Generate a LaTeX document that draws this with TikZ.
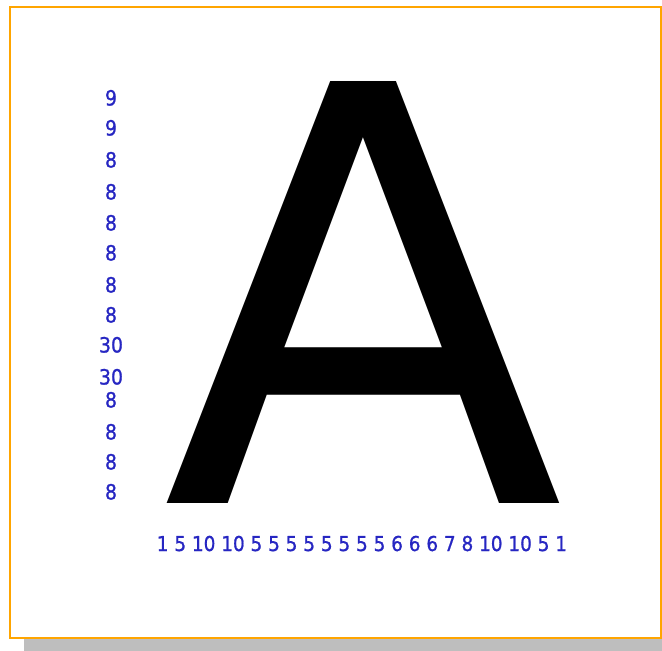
\documentclass[tikz,border=0pt]{standalone}
\usepackage{fontspec}
\setmainfont{DejaVu Sans Condensed}
\newfontfamily\numfont[FakeBold=0.9]{DejaVu Sans Condensed}
\newfontfamily\glyphfont{DejaVu Sans}
\definecolor{numblue}{rgb}{0.15,0.15,0.76}
\definecolor{frameorange}{RGB}{255,165,0}
\definecolor{shadowgrey}{RGB}{190,190,190}
\begin{document}
\begin{tikzpicture}[x=1pt,y=-1pt,
    rownum/.style={anchor=base, inner sep=0pt, text=numblue, font=\numfont\fontsize{21}{21}\selectfont},
    colnum/.style={anchor=base, inner sep=0pt, text=numblue, font=\numfont\fontsize{20.5}{21}\selectfont}]
  \useasboundingbox (0,0) rectangle (662,651);
  % shadow and frame
  \fill[shadowgrey] (24,639) rectangle (662,651);
  \draw[frameorange, line width=2pt, fill=white] (10,6.5) rectangle (660.5,638);
  % the letter
  \node[anchor=base west, inner sep=0pt] (letter) at (162.5,503)
    {\scalebox{5.878}[5.789]{\glyphfont\fontsize{100}{100}\selectfont A}};
  % row sums
  \foreach \y/\n in {105.5/9, 135.5/9, 167.5/8, 199.5/8, 230.5/8, 260.5/8, 292.5/8,
      322.5/8, 352.5/30, 384.5/30, 407.5/8, 439.5/8, 469.5/8, 499.5/8}
    \node[rownum] (r\y) at (111,\y) {\n};
  % column sums
  \node[colnum] (cols) at (362,551) {1 5 10 10 5 5 5 5 5 5 5 5 6 6 6 7 8 10 10 5 1};
\end{tikzpicture}
\end{document}
